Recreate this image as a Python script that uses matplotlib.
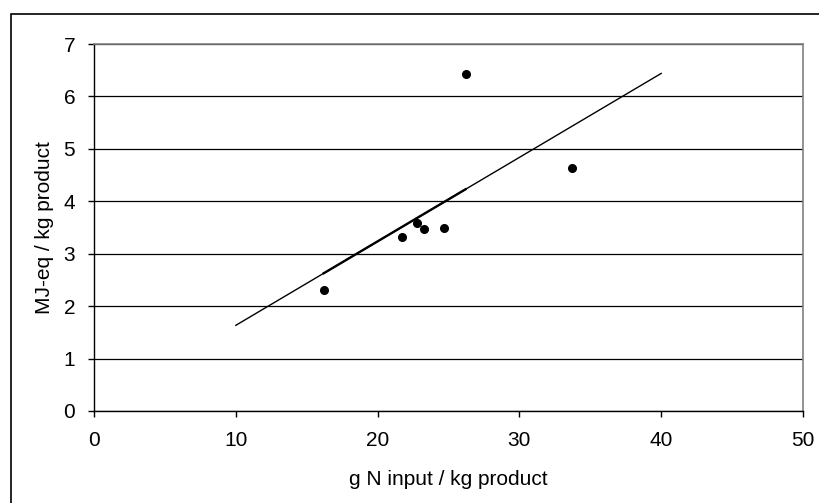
import matplotlib.pyplot as plt
import numpy as np
from matplotlib.patches import Rectangle

# data
n_input = [16.2, 21.7, 22.8, 23.3, 24.7, 26.2, 33.7]
energy = [2.31, 3.31, 3.58, 3.47, 3.50, 6.43, 4.63]
x_ticks = [0, 10, 20, 30, 40, 50]
y_ticks = [0, 1, 2, 3, 4, 5, 6, 7]

plt.rcParams['font.family'] = ['Liberation Sans', 'DejaVu Sans']

fig = plt.figure(figsize=(8.19, 5.03), dpi=100)
ax = fig.add_axes([94 / 819, 1 - 411 / 503, (803 - 94) / 819, (411 - 44) / 503])

# outer chart frame
fig.patches.append(Rectangle((11 / 819, -0.1), 1.2, 1 - 14 / 503 + 0.1,
                             transform=fig.transFigure, fill=False,
                             edgecolor='black', linewidth=1.2))

# linear trendline (least squares)
slope, icpt = np.polyfit(n_input, energy, 1)
xl = np.array([10, 40])
ax.plot(xl, slope * xl + icpt, color='black', linewidth=1.0, zorder=3)
xs = np.array([min(n_input), 26.2])
ax.plot(xs, slope * xs + icpt, color='black', linewidth=1.7, zorder=3)

ax.plot(n_input, energy, 'o', color='black', markersize=5.5, zorder=4)

ax.set_xlim(0, 50)
ax.set_ylim(0, 7)
ax.set_xticks(x_ticks)
ax.set_yticks(y_ticks)
ax.grid(axis='y', color='black', linewidth=0.9)
ax.set_axisbelow(True)

for s in ['top', 'right']:
    ax.spines[s].set_color('#808080')
    ax.spines[s].set_linewidth(1.2)
for s in ['left', 'bottom']:
    ax.spines[s].set_color('black')
    ax.spines[s].set_linewidth(1.0)

ax.tick_params(axis='both', labelsize=15, length=4.5, width=1.0, direction='out')
ax.tick_params(axis='y', pad=9)
ax.tick_params(axis='x', pad=10)

ax.set_xlabel('g N input / kg product', fontsize=15, labelpad=14.5)
ax.set_ylabel('MJ-eq / kg product', fontsize=15, labelpad=6.5)

fig.savefig('out.png', dpi=100)
